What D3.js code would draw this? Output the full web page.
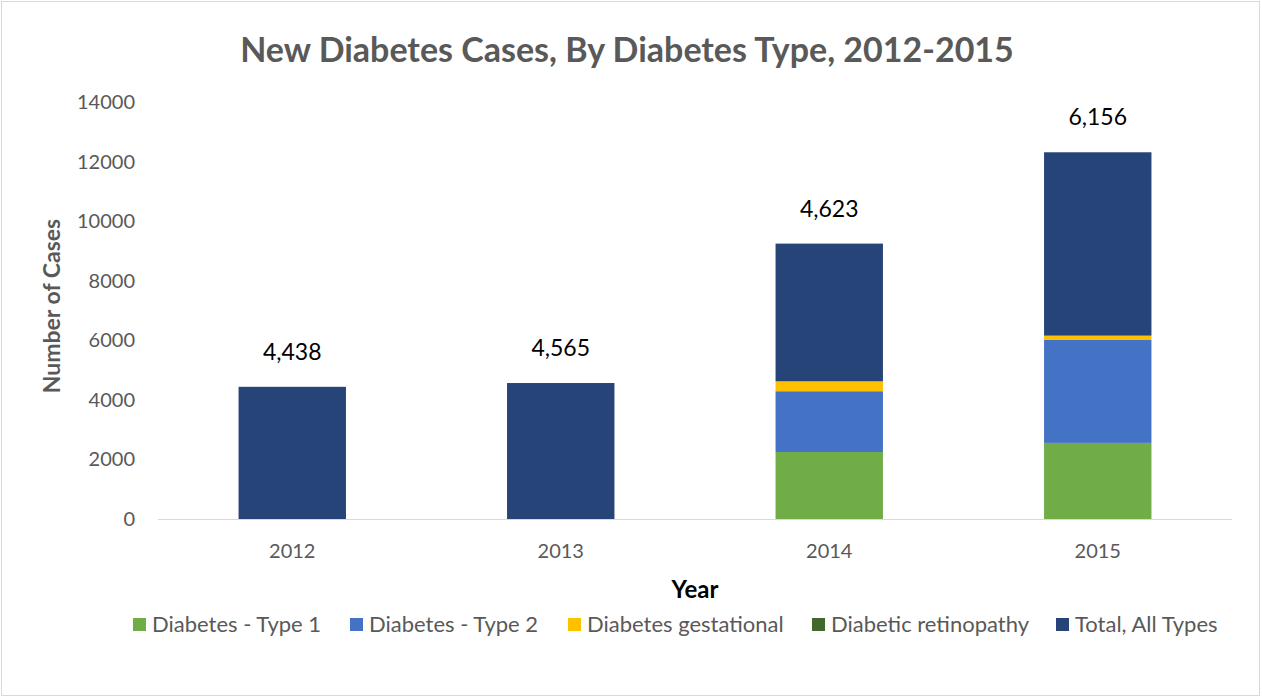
<!DOCTYPE html>
<html>
<head>
<meta charset="utf-8">
<script src="https://cdn.jsdelivr.net/npm/d3@7"></script>
<style>
  body { margin: 0; background: #fff; }
  svg text { font-family: Lato, "Open Sans", sans-serif; }
</style>
</head>
<body>
<div id="chart"></div>
<script>
const years = ["2012", "2013", "2014", "2015"];
const seriesNames = ["Diabetes - Type 1", "Diabetes - Type 2", "Diabetes gestational", "Diabetic retinopathy", "Total, All Types"];
const type1 = [0, 0, 2250, 2555];
const type2 = [0, 0, 2040, 3470];
const gestational = [0, 0, 333, 131];
const retinopathy = [0, 0, 0, 0];
const totalAll = [4438, 4565, 4623, 6156];
const yTicks = [0, 2000, 4000, 6000, 8000, 10000, 12000, 14000];
const colors = ["#70AD47", "#4472C4", "#FFC000", "#43682B", "#264478"];

const W = 1262, H = 698;
const margin = {top: 102, right: 30, bottom: 179, left: 158};
const width = W - margin.left - margin.right;
const height = H - margin.top - margin.bottom;

const svg = d3.select("#chart").append("svg")
    .attr("width", W)
    .attr("height", H);

// chart border
svg.append("rect")
    .attr("x", 1.5).attr("y", 1.5)
    .attr("width", W - 4).attr("height", H - 4)
    .attr("fill", "#fff")
    .attr("stroke", "#d9d9d9");

const g = svg.append("g")
    .attr("transform", `translate(${margin.left},${margin.top})`);

const rows = years.map((y, i) => ({
    year: y,
    [seriesNames[0]]: type1[i],
    [seriesNames[1]]: type2[i],
    [seriesNames[2]]: gestational[i],
    [seriesNames[3]]: retinopathy[i],
    [seriesNames[4]]: totalAll[i]
}));

const stacked = d3.stack().keys(seriesNames)(rows);

const x = d3.scaleBand().domain(years).range([0, width]).padding(0);
const barW = x.bandwidth() * 0.4;
const y = d3.scaleLinear().domain([0, 14000]).range([height, 0]);

// bars
g.selectAll("g.series")
    .data(stacked)
    .enter()
    .append("g")
    .attr("class", "series")
    .attr("fill", (d, i) => colors[i])
    .selectAll("rect")
    .data(d => d)
    .enter()
    .append("rect")
    .attr("x", d => x(d.data.year) + (x.bandwidth() - barW) / 2)
    .attr("y", d => y(d[1]))
    .attr("width", barW)
    .attr("height", d => y(d[0]) - y(d[1]));

// baseline
g.append("line")
    .attr("x1", 0).attr("x2", width)
    .attr("y1", height + 0.5).attr("y2", height + 0.5)
    .attr("stroke", "#d9d9d9");

// y ticks
g.selectAll("text.ytick")
    .data(yTicks)
    .enter()
    .append("text")
    .attr("x", -23)
    .attr("y", d => y(d))
    .attr("dy", "0.35em")
    .attr("text-anchor", "end")
    .attr("font-size", "20px")
    .attr("fill", "#595959")
    .text(d => d);

// x ticks
g.selectAll("text.xtick")
    .data(years)
    .enter()
    .append("text")
    .attr("x", d => x(d) + x.bandwidth() / 2)
    .attr("y", height + 39)
    .attr("text-anchor", "middle")
    .attr("font-size", "20px")
    .attr("fill", "#595959")
    .text(d => d);

// total labels
const topLayer = stacked[stacked.length - 1];
g.selectAll("text.total")
    .data(topLayer)
    .enter()
    .append("text")
    .attr("x", d => x(d.data.year) + x.bandwidth() / 2)
    .attr("y", d => y(d[1]) - 27)
    .attr("text-anchor", "middle")
    .attr("font-size", "23px")
    .attr("fill", "#000")
    .text(d => d3.format(",")(d.data[seriesNames[4]]));

// title
svg.append("text")
    .attr("x", 627)
    .attr("y", 62)
    .attr("text-anchor", "middle")
    .attr("font-size", "34px")
    .attr("font-weight", "bold")
    .attr("fill", "#595959")
    .text("New Diabetes Cases, By Diabetes Type, 2012-2015");

// axis titles
svg.append("text")
    .attr("transform", `translate(60,306) rotate(-90)`)
    .attr("text-anchor", "middle")
    .attr("font-size", "23px")
    .attr("font-weight", "bold")
    .attr("fill", "#595959")
    .text("Number of Cases");

svg.append("text")
    .attr("x", margin.left + width / 2)
    .attr("y", 598)
    .attr("text-anchor", "middle")
    .attr("font-size", "24px")
    .attr("font-weight", "bold")
    .attr("fill", "#000")
    .text("Year");

// legend
const legendX = [133, 350, 568, 812, 1056];
const legend = svg.selectAll("g.legend")
    .data(seriesNames)
    .enter()
    .append("g")
    .attr("class", "legend")
    .attr("transform", (d, i) => `translate(${legendX[i]},624)`);

legend.append("rect")
    .attr("x", 0).attr("y", -6)
    .attr("width", 13).attr("height", 13)
    .attr("fill", (d, i) => colors[i]);

legend.append("text")
    .attr("x", 19)
    .attr("y", 0)
    .attr("dy", "0.36em")
    .attr("font-size", "22px")
    .attr("fill", "#595959")
    .text(d => d);
</script>
</body>
</html>
